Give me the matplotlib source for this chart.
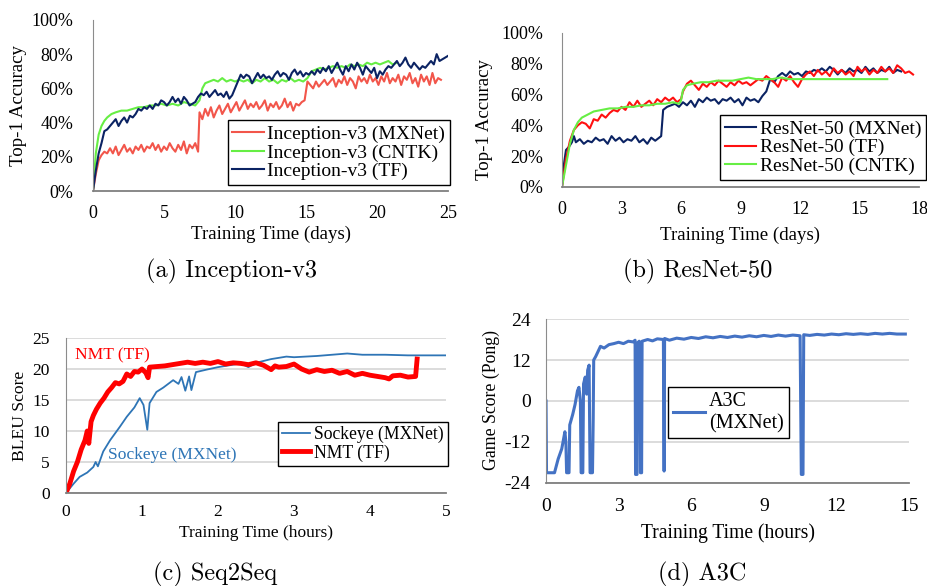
import numpy as np
import matplotlib
matplotlib.use("Agg")
import matplotlib.pyplot as plt

plt.rcParams['font.family'] = ['Liberation Serif', 'DejaVu Serif']
plt.rcParams['axes.unicode_minus'] = False

# ---------------- (a) Inception-v3 ----------------
inc_mx_t = [0, 0.2, 0.4, 0.6, 0.8, 1.0, 1.2, 1.4, 1.6, 1.8, 2.0, 2.2, 2.4, 2.6, 2.8, 3.0, 3.2, 3.4, 3.6, 3.8,
            4.0, 4.2, 4.4, 4.6, 4.8, 5.0, 5.2, 5.4, 5.6, 5.8, 6.0, 6.2, 6.4, 6.6, 6.8, 7.0, 7.2, 7.4, 7.5, 7.7,
            7.9, 8.1, 8.3, 8.5, 8.7, 8.9, 9.1, 9.3, 9.5, 9.7, 9.9, 10.1, 10.3, 10.5, 10.7, 10.9, 11.1, 11.3, 11.5, 11.7,
            11.9, 12.1, 12.3, 12.5, 12.7, 12.9, 13.1, 13.3, 13.5, 13.7, 13.9, 14.1, 14.3, 14.5, 14.7, 14.9, 15.1, 15.3, 15.5, 15.7,
            15.9, 16.1, 16.3, 16.5, 16.7, 16.9, 17.1, 17.3, 17.5, 17.7, 17.9, 18.1, 18.3, 18.5, 18.7, 18.9, 19.1, 19.3, 19.5, 19.7,
            19.9, 20.1, 20.3, 20.5, 20.7, 20.9, 21.1, 21.3, 21.5, 21.7, 21.9, 22.1, 22.3, 22.5, 22.7, 22.9, 23.1, 23.3, 23.5, 23.7,
            23.9, 24.1, 24.3, 24.5]
inc_mx_v = [0, 10, 18, 21, 23, 22, 25, 22, 26, 21, 24, 27, 23, 25, 22, 26, 24, 27, 23, 26,
            25, 28, 24, 27, 23, 26, 24, 28, 25, 23, 27, 24, 29, 22, 27, 25, 28, 23, 46, 42,
            48, 44, 49, 43, 47, 50, 45, 48, 51, 46, 49, 52, 47, 50, 53, 48, 51, 49, 52, 48,
            50, 53, 47, 51, 49, 52, 48, 50, 54, 49, 52, 47, 51, 50, 52, 53, 64, 62, 60, 64,
            61, 63, 65, 62, 64, 66, 61, 65, 63, 67, 62, 66, 64, 60, 67, 64, 66, 63, 68, 64,
            66, 62, 67, 64, 69, 63, 66, 64, 68, 62, 67, 65, 69, 63, 66, 61, 68, 64, 67, 62,
            69, 63, 66, 65]
inc_cn_t = [0, 0.2, 0.4, 0.6, 0.8, 1.0, 1.3, 1.6, 2.0, 2.4, 2.8, 3.2, 3.6, 4.0, 4.4, 4.8, 5.2, 5.6, 6.0, 6.4,
            6.8, 7.2, 7.5, 7.7, 7.9, 8.2, 8.5, 8.8, 9.1, 9.4, 9.7, 10.0, 10.3, 10.6, 10.9, 11.2, 11.5, 11.8, 12.1, 12.4,
            12.7, 13.0, 13.3, 13.6, 13.9, 14.2, 14.5, 14.8, 15.1, 15.4, 15.7, 16.0, 16.3, 16.6, 16.9, 17.2, 17.5, 17.8, 18.1, 18.4,
            18.7, 19.0, 19.3, 19.6, 19.9, 20.2, 20.5, 20.8, 21.1, 21.4]
inc_cn_v = [0, 22, 33, 38, 41, 43, 45, 46, 47, 47, 48, 49, 49, 50, 50, 51, 50, 51, 50, 52,
            51, 50, 53, 60, 63, 64, 65, 64, 66, 64, 65, 64, 65, 64, 65, 63, 65, 64, 66, 64,
            65, 63, 65, 64, 66, 64, 65, 64, 66, 70, 71, 72, 71, 72, 73, 72, 73, 72, 74, 73,
            74, 73, 75, 74, 75, 74, 75, 76, 74, 75]
inc_tf_t = [0, 0.2, 0.4, 0.6, 0.8, 1.0, 1.2, 1.4, 1.6, 1.8, 2.0, 2.2, 2.4, 2.6, 2.8, 3.0, 3.2, 3.4, 3.6, 3.8,
            4.0, 4.2, 4.4, 4.6, 4.8, 5.0, 5.2, 5.4, 5.6, 5.8, 6.0, 6.2, 6.4, 6.6, 6.8, 7.0, 7.2, 7.4, 7.6, 7.8,
            8.0, 8.2, 8.4, 8.6, 8.8, 9.0, 9.2, 9.4, 9.6, 9.8, 10.0, 10.2, 10.4, 10.6, 10.8, 11.0, 11.2, 11.4, 11.6, 11.8,
            12.0, 12.2, 12.4, 12.6, 12.8, 13.0, 13.2, 13.4, 13.6, 13.8, 14.0, 14.2, 14.4, 14.6, 14.8, 15.0, 15.2, 15.4, 15.6, 15.8,
            16.0, 16.2, 16.4, 16.6, 16.8, 17.0, 17.2, 17.4, 17.6, 17.8, 18.0, 18.2, 18.4, 18.6, 18.8, 19.0, 19.2, 19.4, 19.6, 19.8,
            20.0, 20.2, 20.4, 20.6, 20.8, 21.0, 21.2, 21.4, 21.6, 21.8, 22.0, 22.2, 22.4, 22.6, 22.8, 23.0, 23.2, 23.4, 23.6, 23.8,
            24.0, 24.2, 24.4, 24.6, 24.8, 25.0]
inc_tf_v = [0, 12, 22, 28, 35, 36, 38, 40, 42, 38, 41, 43, 40, 44, 43, 45, 48, 47, 49, 48,
            50, 48, 51, 50, 53, 52, 50, 52, 55, 52, 54, 51, 55, 53, 50, 51, 52, 55, 57, 56,
            58, 55, 57, 59, 56, 57, 55, 58, 54, 56, 60, 64, 68, 66, 68, 67, 63, 66, 69, 66,
            68, 66, 67, 65, 68, 70, 67, 69, 68, 65, 69, 71, 68, 70, 67, 69, 68, 70, 68, 71,
            69, 72, 70, 73, 69, 72, 75, 71, 68, 73, 70, 74, 71, 75, 72, 68, 73, 71, 69, 72,
            66, 70, 68, 71, 73, 72, 74, 76, 73, 75, 78, 74, 72, 75, 73, 71, 73, 72, 74, 76,
            74, 80, 76, 77, 78, 79]

# ---------------- (b) ResNet-50 ----------------
res_mx_t = [0, 0.1, 0.2, 0.35, 0.5, 0.6, 0.7, 0.9, 1.1, 1.3, 1.5, 1.7, 1.9, 2.1, 2.3, 2.5, 2.7, 2.9, 3.1, 3.3,
            3.5, 3.7, 3.9, 4.1, 4.3, 4.5, 4.7, 4.9, 5.0, 5.1, 5.3, 5.5, 5.7, 5.9, 6.1, 6.3, 6.5, 6.7, 6.9, 7.1,
            7.3, 7.5, 7.7, 7.9, 8.1, 8.3, 8.5, 8.7, 8.9, 9.1, 9.3, 9.5, 9.7, 9.9, 10.1, 10.3, 10.5, 10.7, 10.9, 11.1,
            11.3, 11.5, 11.7, 11.9, 12.1, 12.3, 12.5, 12.7, 12.9, 13.1, 13.3, 13.5, 13.7, 13.9, 14.1, 14.3, 14.5, 14.7, 14.9, 15.1,
            15.3, 15.5, 15.7, 15.9, 16.1, 16.3, 16.5, 16.7, 16.9, 17.1]
res_mx_v = [0, 15, 24, 26, 29, 33, 29, 31, 28, 30, 29, 32, 30, 31, 28, 33, 30, 32, 29, 31,
            30, 33, 29, 31, 28, 32, 30, 32, 33, 50, 52, 53, 54, 52, 55, 53, 56, 52, 57, 55,
            58, 56, 57, 54, 57, 56, 58, 55, 57, 53, 58, 56, 57, 55, 59, 62, 70, 68, 72, 74,
            72, 75, 73, 74, 72, 75, 74, 76, 75, 77, 75, 78, 76, 73, 76, 74, 77, 75, 76, 74,
            78, 75, 77, 74, 76, 75, 78, 74, 76, 75]
res_tf_t = [0, 0.2, 0.4, 0.6, 0.8, 1.0, 1.2, 1.4, 1.6, 1.8, 2.0, 2.2, 2.4, 2.6, 2.8, 3.0, 3.2, 3.4, 3.6, 3.8,
            4.0, 4.2, 4.4, 4.6, 4.8, 5.0, 5.2, 5.4, 5.6, 5.8, 6.0, 6.1, 6.3, 6.5, 6.7, 6.9, 7.1, 7.3, 7.5, 7.7,
            7.9, 8.1, 8.3, 8.5, 8.7, 8.9, 9.1, 9.3, 9.5, 9.7, 9.9, 10.1, 10.3, 10.5, 10.7, 10.9, 11.1, 11.3, 11.5, 11.7,
            11.9, 12.1, 12.3, 12.5, 12.7, 12.9, 13.1, 13.3, 13.5, 13.7, 13.9, 14.1, 14.3, 14.5, 14.7, 14.9, 15.1, 15.3, 15.5, 15.7,
            15.9, 16.1, 16.3, 16.5, 16.7, 16.9, 17.1, 17.3, 17.5, 17.7]
res_tf_v = [0, 18, 30, 37, 40, 42, 41, 38, 44, 43, 47, 45, 48, 50, 49, 52, 50, 55, 52, 56,
            52, 54, 56, 53, 57, 55, 58, 56, 58, 55, 57, 62, 67, 69, 66, 63, 67, 65, 68, 66,
            69, 67, 65, 68, 66, 69, 67, 68, 66, 68, 70, 69, 72, 70, 68, 65, 71, 69, 72, 68,
            65, 70, 73, 75, 72, 76, 73, 75, 72, 77, 74, 76, 73, 75, 72, 78, 75, 77, 73, 76,
            74, 78, 75, 77, 74, 79, 77, 74, 75, 73]
res_cn_t = [0, 0.2, 0.4, 0.6, 0.8, 1.0, 1.3, 1.6, 2.0, 2.4, 2.8, 3.2, 3.6, 4.0, 4.4, 4.8, 5.2, 5.6, 5.9, 6.0,
            6.1, 6.3, 6.6, 7.0, 7.4, 7.8, 8.2, 8.6, 9.0, 9.4, 9.8, 10.2, 10.6, 11.0, 11.5, 12.0, 12.5, 13.0, 13.5, 14.0,
            14.5, 15.0, 15.5, 16.0, 16.4]
res_cn_v = [0, 14, 28, 37, 42, 45, 47, 49, 50, 51, 51, 52, 52, 53, 53, 54, 54, 55, 54, 56,
            63, 66, 67, 68, 68, 69, 69, 69, 70, 71, 70, 70, 70, 71, 70, 70, 70, 70, 70, 70,
            70, 70, 70, 70, 70]

# ---------------- (c) Seq2Seq ----------------
sock_t = [0, 0.1, 0.18, 0.28, 0.36, 0.39, 0.42, 0.49, 0.58, 0.71, 0.8, 0.9, 0.97, 1.02, 1.07, 1.1, 1.19, 1.28, 1.41, 1.48,
          1.52, 1.57, 1.62, 1.65, 1.71, 1.85, 2.0, 2.15, 2.3, 2.4, 2.5, 2.7, 2.9, 3.0, 3.3, 3.5, 3.7, 3.9, 4.2, 4.5,
          5.0]
sock_v = [0, 1.5, 2.6, 3.3, 4.2, 5.0, 4.3, 6.7, 8.5, 10.7, 12.3, 13.8, 15.3, 14.2, 10.2, 14.5, 16.3, 17.0, 18.2, 17.6,
          18.7, 16.5, 18.8, 16.6, 19.5, 19.9, 20.3, 20.6, 20.9, 20.3, 21.0, 21.6, 22.0, 21.9, 22.1, 22.3, 22.5, 22.3, 22.3, 22.2,
          22.2]
nmt_t = [0, 0.05, 0.1, 0.15, 0.2, 0.25, 0.28, 0.3, 0.33, 0.36, 0.4, 0.45, 0.5, 0.55, 0.6, 0.65, 0.7, 0.75, 0.8, 0.85,
         0.9, 0.95, 1.0, 1.05, 1.08, 1.1, 1.2, 1.3, 1.4, 1.5, 1.6, 1.7, 1.8, 1.9, 2.0, 2.1, 2.2, 2.3, 2.4, 2.5,
         2.6, 2.7, 2.75, 2.8, 2.9, 3.0, 3.1, 3.2, 3.3, 3.4, 3.5, 3.6, 3.7, 3.8, 3.9, 4.0, 4.1, 4.2, 4.25, 4.3,
         4.4, 4.5, 4.6, 4.62]
nmt_v = [0, 1.5, 3.5, 5.0, 7.0, 8.5, 10.0, 8.0, 11.5, 12.5, 13.5, 14.5, 15.3, 16.3, 17.0, 17.8, 17.6, 18.0, 19.2, 18.8,
         19.6, 19.5, 20.0, 19.4, 18.6, 20.3, 20.4, 20.5, 20.7, 20.9, 21.1, 20.9, 21.1, 20.9, 21.2, 20.8, 21.0, 20.9, 20.7, 21.0,
         20.6, 19.9, 20.5, 20.3, 20.4, 20.8, 20.0, 19.5, 19.9, 19.6, 19.8, 19.3, 19.6, 19.0, 19.3, 19.0, 18.8, 18.6, 18.4, 18.9,
         19.0, 18.7, 18.8, 21.6]

# ---------------- (d) A3C ----------------
a3c_t = [0, 0.02, 0.35, 0.5, 0.65, 0.78, 0.82, 0.85, 0.95, 0.98, 1.1, 1.2, 1.3, 1.36, 1.42, 1.45, 1.52, 1.55, 1.62, 1.68,
         1.72, 1.78, 1.82, 1.92, 1.95, 1.97, 2.05, 2.15, 2.25, 2.4, 2.6, 2.8, 3.0, 3.2, 3.4, 3.6, 3.68, 3.7, 3.76, 3.78,
         3.85, 3.88, 3.9, 3.95, 3.97, 4.2, 4.4, 4.6, 4.85, 4.88, 4.9, 5.1, 5.4, 5.7, 6.0, 6.3, 6.6, 6.9, 7.2, 7.5,
         7.8, 8.1, 8.4, 8.7, 9.0, 9.3, 9.6, 9.9, 10.2, 10.5, 10.55, 10.62, 10.65, 10.9, 11.2, 11.5, 11.8, 12.1, 12.4, 12.7,
         13.0, 13.3, 13.6, 13.9, 14.2, 14.5, 14.85]
a3c_v = [0, -21, -21, -17, -14, -9, -12, -21, -21, -7, -4, -1, 3, 4, 0, -21, -21, 5, 7, 2,
         9, 10.5, -21, -21, -5, 12, 13, 14.5, 16, 15.5, 16.5, 16.8, 17.2, 16.8, 17.5, 17.3, 17.8, -21.5, -21.5, 17,
         17.5, 17, -21, -21, 17.5, 18, 17.6, 18.2, 18, -20.5, 18.3, 17.8, 18.4, 18.1, 18.6, 18.3, 18.8, 18.5, 18.9, 18.6,
         19.0, 18.7, 19.1, 18.8, 19.2, 18.9, 19.3, 19.0, 19.3, 19.1, -21.5, -21.5, 19.4, 19.2, 19.5, 19.3, 19.6, 19.4, 19.7, 19.5,
         19.7, 19.5, 19.8, 19.6, 19.8, 19.6, 19.6]

navy = '#0B2363'
green = '#66EE44'
gridc = '#d9d9d9'


def style(ax, tsize, grid=False):
    for s in ['top', 'right']:
        ax.spines[s].set_visible(False)
    ax.spines['left'].set_color('#8c8c8c')
    ax.spines['bottom'].set_color('#7f7f7f')
    ax.spines['bottom'].set_linewidth(1.3)
    ax.tick_params(length=0, labelsize=tsize)
    if grid:
        ax.yaxis.grid(True, color=gridc, lw=1.3)
        ax.set_axisbelow(True)


def labels(ax, xl, yl, xs, ys, xy, yx, yy):
    ax.set_xlabel(xl, fontsize=xs)
    ax.set_ylabel(yl, fontsize=ys)
    ax.xaxis.set_label_coords(0.5, xy)
    ax.xaxis.label.set_va('center')
    ax.yaxis.set_label_coords(yx, yy)
    ax.yaxis.label.set_va('center')


def legend(ax, loc, anchor, size):
    lg = ax.legend(loc=loc, bbox_to_anchor=anchor, fontsize=size, frameon=True, fancybox=False,
                   edgecolor='black', framealpha=1, handlelength=1.6, handletextpad=0.2,
                   borderpad=0.25, labelspacing=0.05, borderaxespad=0)
    lg.get_frame().set_linewidth(1.0)
    return lg


fig = plt.figure(figsize=(9.28, 5.86), dpi=100)

# (a)
ax = fig.add_axes([0.1002, 0.674, 0.3826, 0.292])
ax.plot(inc_mx_t, inc_mx_v, color='#F2564B', lw=1.5, label='Inception-v3 (MXNet)')
ax.plot(inc_cn_t, inc_cn_v, color=green, lw=1.5, label='Inception-v3 (CNTK)')
ax.plot(inc_tf_t, inc_tf_v, color=navy, lw=1.5, label='Inception-v3 (TF)')
ax.set_xlim(0, 25)
ax.set_ylim(0, 100)
ax.set_xticks([0, 5, 10, 15, 20, 25])
ax.set_yticks([0, 20, 40, 60, 80, 100])
ax.set_yticklabels(['0%', '20%', '40%', '60%', '80%', '100%'])
style(ax, 13)
ax.tick_params(axis='y', pad=14)
ax.tick_params(axis='x', pad=10)
labels(ax, 'Training Time (days)', 'Top-1 Accuracy', 13.6, 13.6, -0.251, -0.211, 0.5)
legend(ax, 'lower right', (1.006, 0.035), 14)

# (b)
ax = fig.add_axes([0.6056, 0.681, 0.3847, 0.2628])
ax.plot(res_mx_t, res_mx_v, color=navy, lw=1.5, label='ResNet-50 (MXNet)')
ax.plot(res_tf_t, res_tf_v, color='#FF1010', lw=1.5, label='ResNet-50 (TF)')
ax.plot(res_cn_t, res_cn_v, color=green, lw=1.5, label='ResNet-50 (CNTK)')
ax.set_xlim(0, 18)
ax.set_ylim(0, 100)
ax.set_xticks([0, 3, 6, 9, 12, 15, 18])
ax.set_yticks([0, 20, 40, 60, 80, 100])
ax.set_yticklabels(['0%', '20%', '40%', '60%', '80%', '100%'])
style(ax, 13)
ax.tick_params(axis='y', pad=13.5)
ax.tick_params(axis='x', pad=10)
labels(ax, 'Training Time (days)', 'Top-1 Accuracy', 13.6, 13.6, -0.312, -0.218, 0.435)
legend(ax, 'lower right', (1.02, 0.045), 14)

# (c)
ax = fig.add_axes([0.0711, 0.1587, 0.4095, 0.2645])
ax.plot(sock_t, sock_v, color='#2E75B6', lw=1.3, label='Sockeye (MXNet)')
ax.plot(nmt_t, nmt_v, color='#FF0000', lw=3.5, label='NMT (TF)')
ax.set_xlim(0, 5)
ax.set_ylim(0, 25)
ax.set_xticks([0, 1, 2, 3, 4, 5])
ax.set_yticks([0, 5, 10, 15, 20, 25])
style(ax, 12.5, grid=True)
ax.tick_params(axis='y', pad=11.5)
ax.tick_params(axis='x', pad=8)
labels(ax, 'Training Time (hours)', 'BLEU Score', 12.5, 12.6, -0.258, -0.121, 0.5)
legend(ax, 'lower right', (1.005, 0.174), 12.7)
ax.text(0.024, 0.89, 'NMT (TF)', color='#FF0000', fontsize=12.6, transform=ax.transAxes, va='center')
ax.text(0.11, 0.245, 'Sockeye (MXNet)', color='#2E75B6', fontsize=12.6, transform=ax.transAxes, va='center')

# (d)
ax = fig.add_axes([0.5884, 0.1758, 0.3911, 0.2798])
ax.plot(a3c_t, a3c_v, color='#4472C4', lw=2.2, label='A3C\n(MXNet)')
ax.set_xlim(0, 15)
ax.set_ylim(-24, 24)
ax.set_xticks([0, 3, 6, 9, 12, 15])
ax.set_yticks([-24, -12, 0, 12, 24])
ax.set_yticklabels(['-24', '-12', '0', '12', '24'])
style(ax, 14, grid=True)
ax.tick_params(axis='y', pad=11)
ax.tick_params(axis='x', pad=11)
labels(ax, 'Training Time (hours)', 'Game Score (Pong)', 14.1, 12.8, -0.305, -0.152, 0.506)
legend(ax, 'lower left', (0.336, 0.274), 14.5)

# captions
for x, y, s in [(0.25, 0.536, '(a) Inception-v3'), (0.752, 0.536, '(b) ResNet-50'),
                (0.232, 0.0205, '(c) Seq2Seq'), (0.757, 0.0205, '(d) A3C')]:
    fig.text(x, y, s, ha='center', va='center', fontsize=17.5, family='cmr10')

fig.savefig('out.png', dpi=100)
